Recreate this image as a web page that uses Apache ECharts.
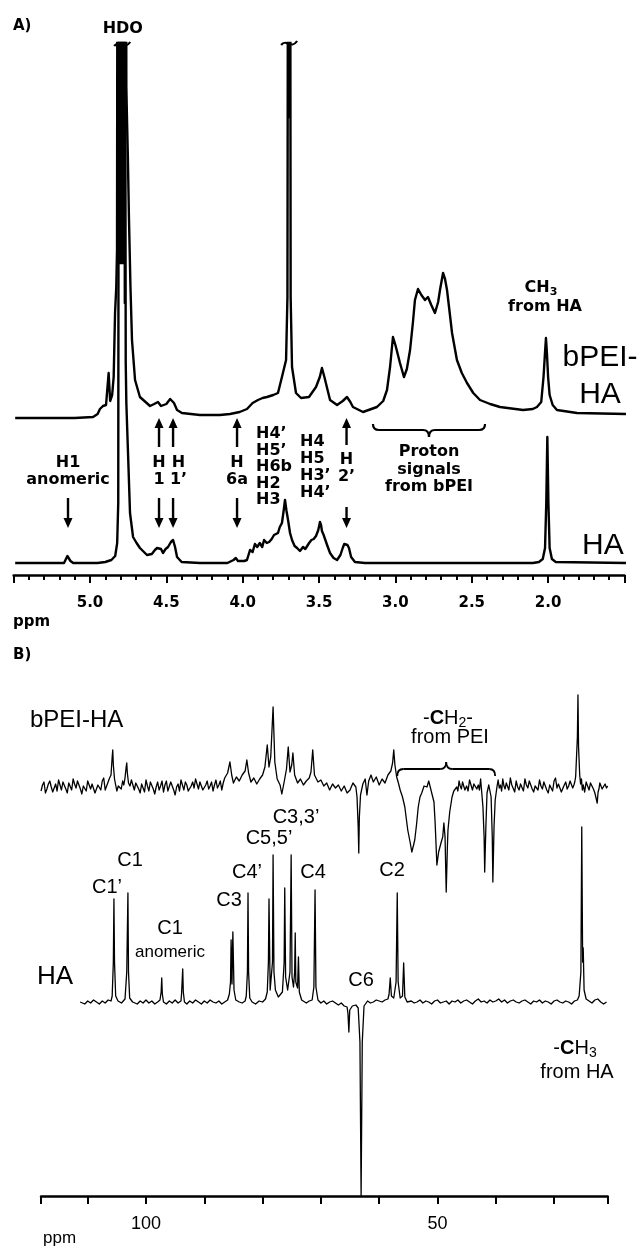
<!DOCTYPE html>
<html>
<head>
<meta charset="utf-8">
<script src="https://cdn.jsdelivr.net/npm/echarts@6/dist/echarts.min.js"></script>
<style>
html,body{margin:0;padding:0;background:#fff}
#chart{width:644px;height:1248px}
</style>
</head>
<body>
<div id="chart"></div>
<script>
// ---- A) 1H NMR: [chemical shift (ppm), intensity above the trace baseline] ----
const protonRange = [1.5, 5.5];
const protonTickLabels = [2.0, 2.5, 3.0, 3.5, 4.0, 4.5, 5.0];

const protonHA = [
  [5.49,0],[5.30,0],[5.17,0],[5.158,2],[5.148,7],[5.144,8],[5.138,6],[5.128,2],[5.11,0],[4.95,0],
  [4.90,1],[4.86,3],[4.835,7],[4.822,20],[4.815,60],[4.811,700],[4.808,320],[4.805,700],[4.802,300],
  [4.799,700],[4.796,300],[4.793,700],[4.790,300],[4.787,700],[4.784,300],[4.781,700],[4.778,300],
  [4.775,700],[4.772,260],[4.769,500],[4.766,200],[4.762,160],[4.751,110],[4.738,50],
  [4.718,26],[4.695,20],[4.673,15],[4.627,8],[4.595,9],[4.575,13],[4.561,15],[4.548,17],[4.535,14],
  [4.522,10],[4.505,14],[4.489,16],[4.47,21],[4.456,23],[4.443,16],[4.43,6],[4.40,1],[4.28,0],[4.10,0],
  [4.06,3],[4.045,5],[4.031,2],[3.99,2],[3.972,3],[3.952,13],[3.935,11],[3.92,19],[3.905,16],[3.888,20],
  [3.872,16],[3.86,23],[3.842,20],[3.827,21],[3.81,24],[3.795,28],[3.769,30],[3.757,36],[3.743,40],
  [3.732,52],[3.723,63],[3.713,52],[3.703,43],[3.69,30],[3.677,23],[3.66,17],[3.644,15],[3.625,12],
  [3.615,14],[3.605,16],[3.59,14],[3.579,16],[3.565,20],[3.55,23],[3.535,24],[3.52,27],[3.505,33],
  [3.494,41],[3.487,38],[3.481,32],[3.47,28],[3.461,26],[3.445,17],[3.428,10],[3.405,5],[3.382,3],
  [3.36,8],[3.345,15],[3.335,19],[3.323,21],[3.314,18],[3.304,15],[3.29,6],[3.265,1],[3.20,0],[2.50,0],
  [2.10,0],[2.06,1],[2.035,4],[2.02,15],[2.012,60],[2.005,126],[1.998,60],[1.99,15],[1.975,4],[1.95,1],
  [1.49,0]
];

const protonBPEIHA = [
  [5.49,-1],[5.10,-1],[4.98,0],[4.95,3],[4.935,8],[4.915,11],[4.895,12],[4.884,14],[4.878,44],[4.873,44],
  [4.868,16],[4.855,22],[4.845,40],[4.836,104],[4.828,130],[4.823,167],[4.819,700],[4.816,280],[4.813,700],
  [4.810,260],[4.807,700],[4.804,260],[4.801,700],[4.798,260],[4.795,700],[4.792,260],[4.789,700],
  [4.786,260],[4.783,700],[4.780,260],[4.777,700],[4.774,300],[4.771,700],[4.768,300],[4.765,700],
  [4.762,330],[4.758,300],[4.752,260],[4.745,200],[4.735,130],[4.725,77],[4.705,37],[4.673,20],[4.607,11],
  [4.58,13],[4.555,15],[4.535,11],[4.522,10],[4.50,13],[4.475,18],[4.463,19],[4.45,14],[4.43,7],[4.398,4],
  [4.28,2],[4.15,2],[4.083,3],[4.02,5],[3.972,8],[3.935,14],[3.9,17],[3.87,19],[3.841,20],[3.80,22],
  [3.769,24],[3.743,40],[3.716,57],[3.707,120],[3.702,700],[3.699,300],[3.696,700],[3.693,300],[3.690,700],
  [3.686,120],[3.677,50],[3.651,24],[3.618,19],[3.566,20],[3.520,30],[3.495,40],[3.481,49],[3.465,40],
  [3.428,17],[3.382,12],[3.345,16],[3.317,20],[3.295,15],[3.278,10],[3.212,5],[3.121,10],[3.08,16],
  [3.055,27],[3.035,50],[3.016,80],[3.0,72],[2.97,54],[2.944,40],[2.925,48],[2.904,67],[2.885,95],
  [2.872,117],[2.852,128],[2.83,122],[2.806,117],[2.787,120],[2.765,112],[2.741,104],[2.72,115],
  [2.708,127],[2.688,144],[2.675,138],[2.662,127],[2.645,105],[2.629,84],[2.597,57],[2.565,44],[2.531,34],
  [2.49,24],[2.446,17],[2.38,13],[2.315,10],[2.164,7],[2.1,8],[2.073,10],[2.045,15],[2.03,40],[2.02,65],
  [2.014,79],[2.008,65],[2.0,40],[1.99,22],[1.97,12],[1.942,7],[1.811,4],[1.49,3]
];

// ---- B) 13C NMR ----
const carbonRange = [20.8, 118];
const carbonTicks = [20.8, 30, 40, 50, 60, 70, 80, 90, 100, 110, 118];
const carbonTickLabels = [50, 100];

const carbonBPEIHA = [
  [118.0,-4],[117.75,2],[117.5,5],[117.25,-6],[117.0,-2],[116.75,3],[116.5,6],[116.25,0],[116.0,-5],
  [115.75,-1],[115.5,3],[115.25,-4],[115.0,7],[114.75,2],[114.5,-3],[114.25,5],[114.0,4],[113.75,-2],
  [113.5,-6],[113.25,4],[113.0,2],[112.75,-3],[112.5,8],[112.25,3],[112.0,-1],[111.75,6],[111.5,5],
  [111.25,-2],[111.0,-7],[110.75,1],[110.5,3],[110.25,-4],[110.0,6],[109.75,8],[109.5,-2],[109.25,3],
  [109.0,4],[108.75,-6],[108.5,-5],[108.25,2],[108.0,1],[107.75,-3],[107.5,6],[107.25,9],[107.0,-3],
  [106.75,1],[106.5,5],[106.25,9],[106.0,12],[105.8,30],[105.7,37],[105.6,22],[105.4,8],[105.0,-4],
  [104.75,1],[104.5,3],[104.25,-2],[104.0,6],[103.8,2],[103.6,9],[103.4,20],[103.3,24],[103.2,14],
  [103.0,4],[102.75,1],[102.5,7],[102.25,2],[102.0,-3],[101.75,4],[101.5,5],[101.25,-2],[101.0,-6],
  [100.75,3],[100.5,2],[100.25,-5],[100.0,7],[99.75,1],[99.5,-4],[99.25,5],[99.0,3],[98.75,-2],[98.5,-7],
  [98.25,0],[98.0,5],[97.75,-3],[97.5,1],[97.25,6],[97.0,-5],[96.75,2],[96.5,6],[96.25,-4],[96.0,-2],
  [95.75,5],[95.5,4],[95.25,-3],[95.0,-8],[94.75,0],[94.5,3],[94.25,-4],[94.0,7],[93.75,2],[93.5,-3],
  [93.25,5],[93.0,2],[92.75,-4],[92.5,-6],[92.25,1],[92.0,5],[91.75,-1],[91.5,8],[91.25,3],[91.0,-2],
  [90.75,5],[90.5,4],[90.25,-3],[90.0,-5],[89.75,2],[89.5,6],[89.25,-2],[89.0,1],[88.75,5],[88.5,-4],
  [88.25,2],[88.0,7],[87.75,-1],[87.5,2],[87.25,6],[87.0,-3],[86.75,4],[86.5,9],[86.0,14],
  [85.6,25],[85.3,12],[85.0,4],[84.5,10],[84.0,6],[83.5,12],[83.0,16],[82.7,27],[82.4,14],[82.0,5],
  [81.5,9],[81.0,3],[80.5,8],[80.0,12],[79.6,20],[79.2,42],[78.9,20],[78.6,30],[78.2,80],[77.9,25],
  [77.5,8],[77.0,2],[76.7,-7],[76.3,5],[75.9,18],[75.6,40],[75.3,15],[75.0,22],[74.8,34],[74.5,12],
  [74.0,4],[73.5,8],[73.0,2],[72.5,6],[72.0,9],[71.7,15],[71.4,37],[71.1,12],[70.5,5],[70.0,7],[69.5,1],
  [69.0,4],[68.5,-3],[68.0,3],[67.5,-1],[67.0,2],[66.5,-4],[66.0,1],[65.5,-6],[65.0,-3],[64.5,4],[64.0,0],
  [63.8,-10],[63.6,-40],[63.5,-66],[63.4,-30],[63.2,-8],[62.8,3],[62.4,8],[62.1,-8],[61.8,6],[61.4,12],
  [61.0,5],[60.5,10],[60.0,2],[59.5,8],[59.0,4],[58.5,12],[58.0,16],[57.7,24],[57.5,37],[57.3,22],
  [57.0,10],[56.7,4],[56.4,-3],[56.0,-10],[55.6,-20],[55.1,-43],[54.7,-55],[54.4,-65],[54.1,-58],
  [53.9,-53],[53.6,-38],[53.3,-20],[53.0,-10],[52.7,-6],[52.3,1],[51.8,0],[51.5,6],[51.2,-1],[50.9,-3],
  [50.6,-15],[50.4,-36],[50.1,-78],[49.8,-65],[49.4,-56],[49.1,-50],[48.9,-36],[48.7,-50],[48.5,-105],
  [48.3,-60],[48.2,-43],[47.9,-25],[47.5,-10],[47.2,-4],[46.7,0],[46.5,-4],[46.3,6],[46.1,1],[45.9,-2],
  [45.7,5],[45.5,4],[45.3,-3],[45.0,1],[44.75,-4],[44.5,7],[44.25,2],[44.0,-3],[43.75,3],[43.5,5],
  [43.25,-2],[43.0,2],[42.8,-3],[42.6,8],[42.2,-20],[42.0,-50],[41.9,-85],[41.7,-40],[41.5,-6],
  [41.2,2],[41.0,4],[40.8,-10],[40.6,-50],[40.5,-95],[40.3,-40],[40.1,-13],[39.8,0],[39.6,7],[39.4,-1],
  [39.2,2],[39.0,-4],[38.8,8],[38.6,1],[38.4,-2],[38.2,4],[38.0,5],[37.75,-3],[37.5,9],[37.25,2],[37.0,1],
  [36.75,-5],[36.5,6],[36.25,0],[36.0,-3],[35.75,3],[35.5,4],[35.25,-4],[35.0,8],[34.75,2],[34.5,-1],
  [34.25,6],[34.0,5],[33.75,-2],[33.5,-5],[33.25,1],[33.0,3],[32.75,-3],[32.5,7],[32.25,1],[32.0,-2],
  [31.75,5],[31.5,4],[31.25,-3],[31.0,-6],[30.75,2],[30.5,2],[30.25,-4],[30.0,6],[29.75,9],[29.5,-1],
  [29.25,3],[29.0,3],[28.75,-5],[28.5,-4],[28.25,2],[28.0,5],[27.75,-2],[27.5,1],[27.25,6],[27.0,7],
  [26.8,-1],[26.6,2],[26.45,5],[26.3,10],[26.0,50],[25.9,92],[25.8,40],[25.6,12],[25.45,3],[25.3,8],
  [25.15,-3],[25.0,2],[24.75,-5],[24.5,5],[24.25,1],[24.0,-3],[23.75,4],[23.5,1],[23.25,-2],[23.0,-6],
  [22.8,-4],[22.6,-16],[22.45,-5],[22.3,-2],[22.15,4],[22.0,3],[21.75,-2],[21.5,-4],[21.25,3],[21.0,-1],
  [20.8,1]
];

const carbonHA = [
  [111.3,0],[110.5,-2],[110,1],[109.5,-1],[109,2],[108.5,0],[108,-2],[107.5,1],[107,-1],[106.5,2],[106,1],
  [105.8,6],[105.6,40],[105.5,103],[105.4,40],[105.2,6],[104.8,1],[104.2,-1],[103.6,3],[103.3,30],
  [103.1,109],[103.0,30],[102.8,4],[102.3,0],[101.5,-2],[101,1],[100.5,-1],[100,2],[99.5,-1],[99,1],
  [98.5,-2],[98,0],[97.6,2],[97.4,10],[97.3,24],[97.2,8],[97.0,0],[96.5,-2],[96,1],[95.5,-1],[95,2],
  [94.5,-1],[94,1],[93.9,8],[93.7,33],[93.6,10],[93.4,0],[93,-2],[92.5,1],[92,-1],[91.5,2],[91,0],
  [90.5,-2],[90,1],[89.5,-1],[89,2],[88.5,0],[88,-1],[87.5,1],[87,-2],[86.5,0],[86,2],[85.7,8],[85.5,20],
  [85.4,62],[85.25,18],[85.1,70],[84.9,12],[84.6,2],[84,0],[83.5,-1],[83,1],[82.8,6],[82.6,30],[82.5,109],
  [82.4,30],[82.2,4],[81.8,0],[81.2,-2],[80.6,1],[80,0],[79.5,3],[79.2,10],[79.0,40],[78.9,103],[78.7,12],
  [78.5,10],[78.3,40],[78.2,147],[78.05,30],[77.8,12],[77.3,5],[76.6,10],[76.3,40],[76.2,114],[76.05,25],
  [75.7,12],[75.3,30],[75.1,147],[74.95,25],[74.7,15],[74.5,30],[74.4,69],[74.3,20],[74.0,14],[73.85,45],
  [73.7,10],[73.3,2],[72.5,-1],[72,1],[71.5,2],[71.2,15],[71.0,112],[70.85,15],[70.5,2],[70,-1],[69.5,1],
  [69,-2],[68.5,0],[68,1],[67.5,-1],[67,-3],[66.5,-1],[66,-4],[65.5,-5],[65.35,-12],[65.2,-30],[65.05,-8],
  [64.6,-4],[64,-3],[63.6,-6],[63.3,-40],[63.1,-194],[62.9,-40],[62.6,-4],[62,1],[61.5,-1],[61,0],
  [60.5,2],[60,1],[59.5,0],[59,2],[58.5,3],[58.3,8],[58.1,24],[57.9,6],[57.5,4],[57.1,20],[56.9,109],
  [56.75,20],[56.4,4],[56,6],[55.8,39],[55.6,5],[55.2,0],[54.5,1],[54,-1],[53.5,0],[53,2],[52.5,-1],
  [52,1],[51.5,0],[51,-2],[50.5,1],[50,2],[49.5,-1],[49,0],[48.5,1],[48,-2],[47.5,1],[47,0],[46.5,2],
  [46,-1],[45.5,1],[45,2],[44.5,0],[44,-2],[43.5,1],[43,3],[42.5,0],[42,1],[41.5,-1],[41,2],[40.5,0],
  [40,1],[39.5,3],[39,0],[38.5,2],[38,-1],[37.5,1],[37,2],[36.5,0],[36,-1],[35.5,1],[35,2],[34.5,0],
  [34,-2],[33.5,1],[33,0],[32.5,2],[32,-1],[31.5,1],[31,0],[30.5,-2],[30,1],[29.5,2],[29,0],[28.5,-1],
  [28,1],[27.5,0],[27,-2],[26.5,1],[26,2],[25.7,6],[25.4,30],[25.25,175],[25.1,40],[25.0,54],[24.85,12],
  [24.5,3],[24,1],[23.5,-1],[23,2],[22.5,3],[22,0],[21.5,-2],[21,0]
];

// ---- drawing ----
const BOLD = '"DejaVu Sans"';
const SANS = '"Liberation Sans", Arial, sans-serif';
const chart = echarts.init(document.getElementById('chart'), null, {renderer: 'canvas'});

// each trace sits on its own baseline inside the panel
const lift = (pts, base) => pts.map(p => [p[0], p[1] + base]);

function traceSeries(data, axis, base, width) {
  return {
    type: 'line', xAxisIndex: axis, yAxisIndex: axis, data: lift(data, base),
    showSymbol: false, symbol: 'none', clip: true, silent: true, animation: false,
    lineStyle: {color: '#000', width: width, join: 'round'}
  };
}

chart.setOption({
  animation: false,
  backgroundColor: '#fff',
  grid: [
    {left: 13.65, right: 19.55, top: 43, bottom: 673},
    {left: 41.06, right: 36.3, top: 640, bottom: 52}
  ],
  xAxis: [
    {
      type: 'value', gridIndex: 0, min: protonRange[0], max: protonRange[1], inverse: true, interval: 0.5,
      axisLine: {show: true, onZero: false, lineStyle: {color: '#000', width: 2.5}},
      axisTick: {show: true, length: 8, lineStyle: {color: '#000', width: 2}},
      minorTick: {show: true, splitNumber: 5, length: 5, lineStyle: {color: '#000', width: 2}},
      splitLine: {show: false}, minorSplitLine: {show: false},
      axisLabel: {
        margin: 21, color: '#000', fontFamily: BOLD, fontWeight: 'bold', fontSize: 15,
        showMinLabel: true, showMaxLabel: true,
        formatter: v => protonTickLabels.some(t => Math.abs(t - v) < 1e-6) ? v.toFixed(1) : ''
      }
    },
    {
      type: 'value', gridIndex: 1, min: carbonRange[0], max: carbonRange[1], inverse: true,
      axisLine: {show: true, onZero: false, lineStyle: {color: '#000', width: 2.5}},
      axisTick: {show: true, customValues: carbonTicks, length: 8, lineStyle: {color: '#000', width: 2}},
      splitLine: {show: false},
      axisLabel: {
        customValues: carbonTickLabels, margin: 19, color: '#000', fontFamily: SANS, fontSize: 18
      }
    }
  ],
  yAxis: [
    {type: 'value', gridIndex: 0, min: 0, max: 532, show: false, splitLine: {show: false}},
    {type: 'value', gridIndex: 1, min: 0, max: 556, show: false, splitLine: {show: false}}
  ],
  series: [
    traceSeries(protonBPEIHA, 0, 158, 2.4),
    traceSeries(protonHA, 0, 12, 2.4),
    traceSeries(carbonBPEIHA, 1, 409, 1.3),
    traceSeries(carbonHA, 1, 194, 1.3)
  ]
});

// ---- annotations ----
const px = (axis, ppm) => chart.convertToPixel({xAxisIndex: axis}, ppm);
const els = [];

function text(x, y, str, font, align) {
  els.push({type: 'text', x: x, y: y, silent: true,
    style: {text: str, font: font, fill: '#000', align: align || 'center', verticalAlign: 'middle',
            textAlign: align || 'center', textVerticalAlign: 'middle'}});
}
function richText(x, y, str, rich, align) {
  els.push({type: 'text', x: x, y: y, silent: true,
    style: {text: str, rich: rich, fill: '#000', align: align || 'center', verticalAlign: 'middle',
            textAlign: align || 'center', textVerticalAlign: 'middle'}});
}
function arrow(x, tail, tip) {
  const dir = tip < tail ? 1 : -1;
  const neck = tip + dir * 10;
  els.push({type: 'line', silent: true, shape: {x1: x, y1: tail, x2: x, y2: neck},
            style: {stroke: '#000', lineWidth: 2.4}});
  els.push({type: 'polygon', silent: true, shape: {points: [[x, tip], [x - 4.5, neck], [x + 4.5, neck]]},
            style: {fill: '#000'}});
}
function curve(x1, y1, cx, cy, x2, y2, w) {
  els.push({type: 'bezierCurve', silent: true,
            shape: {x1: x1, y1: y1, cpx1: cx, cpy1: cy, x2: x2, y2: y2},
            style: {stroke: '#000', lineWidth: w, fill: null}});
}
function seg(x1, y1, x2, y2, w) {
  els.push({type: 'line', silent: true, shape: {x1: x1, y1: y1, x2: x2, y2: y2},
            style: {stroke: '#000', lineWidth: w}});
}
function brace(x1, x2, line, endDy, tipDy, w) {
  const c = (x1 + x2) / 2;
  curve(x1, line + endDy, x1, line, x1 + 6, line, w);
  seg(x1 + 6, line, c - 6, line, w);
  curve(c - 6, line, c, line, c, line + tipDy, w);
  curve(c, line + tipDy, c, line, c + 6, line, w);
  seg(c + 6, line, x2 - 6, line, w);
  curve(x2 - 6, line, x2, line, x2, line + endDy, w);
}
function breakMark(x, y) {
  els.push({type: 'bezierCurve', silent: true,
            shape: {x1: x - 8, y1: y + 2, cpx1: x - 3, cpy1: y - 5, cpx2: x + 2, cpy2: y + 7, x2: x + 8, y2: y - 2},
            style: {stroke: '#000', lineWidth: 2.2, fill: null}});
}

const fA = 'bold 16px ' + BOLD;
const fB = '20px ' + SANS;

// panel A
text(13, 26, 'A)', 'bold 15px ' + BOLD, 'left');
text(px(0, 4.785), 29, 'HDO', fA);
breakMark(px(0, 4.789), 44);
breakMark(px(0, 3.696), 43);
text(13, 622, 'ppm', 'bold 15px ' + BOLD, 'left');

richText(541, 288, '{a|CH}{b|3}', {
  a: {fontFamily: BOLD, fontWeight: 'bold', fontSize: 16},
  b: {fontFamily: BOLD, fontWeight: 'bold', fontSize: 11, padding: [9, 0, 0, 0]}
});
text(545, 307, 'from HA', fA);
text(600, 358, 'bPEI-', '30px ' + SANS);
text(600, 395, 'HA', '30px ' + SANS);
text(582, 546, 'HA', '30px ' + SANS, 'left');

const xH1a = px(0, 5.144), xH1 = px(0, 4.548), xH1p = px(0, 4.456), xH6a = px(0, 4.037), xH2p = px(0, 3.32);
text(xH1a, 463, 'H1', fA);
text(xH1a, 480, 'anomeric', fA);
arrow(xH1a, 498, 528);
// the H1' caption sits a little right of its arrows
[[xH1, xH1, '1'], [xH1p, px(0, 4.42), '1’'], [xH6a, xH6a, '6a']].forEach(([xa, xt, s]) => {
  text(xt, 463, 'H', fA);
  text(xt, 480, s, fA);
  arrow(xa, 447, 418);
  arrow(xa, 498, 528);
});
text(xH2p, 460, 'H', fA);
text(xH2p, 477, '2’', fA);
arrow(xH2p, 445, 418);
arrow(xH2p, 507, 528);

['H4’', 'H5’', 'H6b', 'H2', 'H3'].forEach((s, i) => text(256, 434 + i * 16.5, s, fA, 'left'));
['H4', 'H5', 'H3’', 'H4’'].forEach((s, i) => text(300, 442 + i * 17, s, fA, 'left'));

brace(px(0, 3.147), px(0, 2.413), 430, -6, 7, 2.2);
text(px(0, 2.78), 452, 'Proton', fA);
text(px(0, 2.78), 470, 'signals', fA);
text(px(0, 2.78), 487, 'from bPEI', fA);

// panel B
text(13, 655, 'B)', 'bold 15px ' + BOLD, 'left');
text(30, 720, 'bPEI-HA', '24px ' + SANS, 'left');
text(37, 977, 'HA', '26px ' + SANS, 'left');
text(43, 1238, 'ppm', '17px ' + SANS, 'left');

richText(448, 718, '{n|-}{c|C}{n|H}{s|2}{n|-}', {
  n: {fontFamily: SANS, fontSize: 20},
  c: {fontFamily: SANS, fontSize: 20, fontWeight: 'bold'},
  s: {fontFamily: SANS, fontSize: 14, padding: [10, 0, 0, 0]}
});
text(450, 737, 'from PEI', fB);
brace(px(1, 56.9), px(1, 40.1), 769, 7, -7, 1.8);

text(296, 817, 'C3,3’', fB);
text(269, 838, 'C5,5’', fB);
text(130, 860, 'C1', fB);
text(247, 872, 'C4’', fB);
text(313, 872, 'C4', fB);
text(392, 870, 'C2', fB);
text(107, 887, 'C1’', fB);
text(229, 900, 'C3', fB);
text(170, 928, 'C1', fB);
text(170, 952, 'anomeric', '17px ' + SANS);
text(361, 980, 'C6', fB);
richText(575, 1048, '{n|-}{c|C}{n|H}{s|3}', {
  n: {fontFamily: SANS, fontSize: 20},
  c: {fontFamily: SANS, fontSize: 20, fontWeight: 'bold'},
  s: {fontFamily: SANS, fontSize: 14, padding: [10, 0, 0, 0]}
});
text(577, 1072, 'from HA', fB);

chart.setOption({graphic: {elements: els}});
</script>
</body>
</html>
